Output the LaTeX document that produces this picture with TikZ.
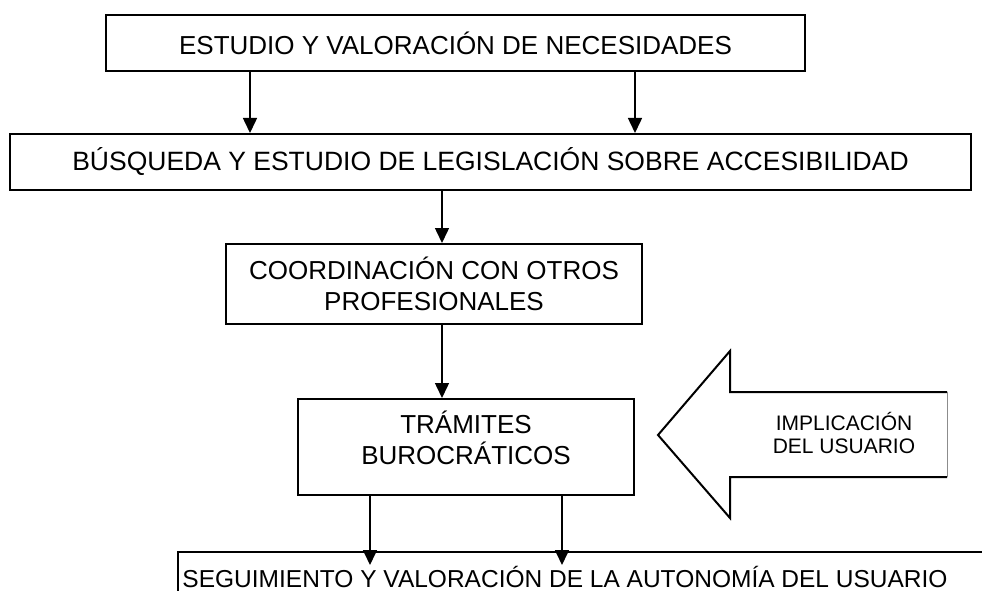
\documentclass[tikz,border=0pt]{standalone}
\usepackage{fontspec}
\setmainfont{Liberation Sans}
\usetikzlibrary{arrows.meta,calc}
\tikzset{
  boxst/.style={draw=black, line width=2pt, inner sep=0pt, align=center, font=\fontsize{26}{31}\selectfont},
  conn/.style={line width=1.5pt, -{Triangle[width=14pt,length=15pt]}},
  bigarrow/.style={draw=black, line width=2pt, line join=miter},
  lbl/.style={inner sep=0pt, align=center}
}
\begin{document}
\begin{tikzpicture}[x=1pt,y=-1pt]
\useasboundingbox (0,0) rectangle (982,591);
\clip (0,0) rectangle (982,591);
% boxes
\node[boxst, minimum width=699pt, minimum height=56pt] (top) at (455.5,43) {ESTUDIO Y VALORACIÓN DE NECESIDADES};
\node[boxst, minimum width=961pt, minimum height=56pt, font=\fontsize{26.5}{31}\selectfont] (leg) at (490.5,162) {BÚSQUEDA Y ESTUDIO DE LEGISLACIÓN SOBRE ACCESIBILIDAD};
\node[boxst, minimum width=416pt, minimum height=80pt] (coord) at (434,284) {COORDINACIÓN CON OTROS\\PROFESIONALES};
\node[boxst, minimum width=336pt, minimum height=96pt] (tram) at (466,447) {TRÁMITES\\BUROCRÁTICOS\\[-12pt]};
\node[boxst, minimum width=813pt, minimum height=80pt, anchor=north west] (bot) at (177,551) {};
\node[lbl, font=\fontsize{24.5}{28}\selectfont, anchor=base] (bottxt) at (565,587) {SEGUIMIENTO Y VALORACIÓN DE LA AUTONOMÍA DEL USUARIO};
% connector x positions
\coordinate (x1) at (250,0);
\coordinate (x2) at (635,0);
\coordinate (x3) at (442,0);
\coordinate (x4) at (370,0);
\coordinate (x5) at (562,0);
\draw[conn] (x1 |- top.south) -- (x1 |- leg.north);
\draw[conn] (x2 |- top.south) -- (x2 |- leg.north);
\draw[conn] (x3 |- leg.south) -- (x3 |- coord.north);
\draw[conn] (x3 |- coord.south) -- (x3 |- tram.north);
\draw[conn] (x4 |- tram.south) -- ([yshift=-14pt]x4 |- bot.north);
\draw[conn] (x5 |- tram.south) -- ([yshift=-14pt]x5 |- bot.north);
% block arrow
\draw[bigarrow] (947,392) -- (730,392) -- (730,351) -- (658,435) -- (730,518) -- (730,477) -- (947,477);
\draw[line width=1pt, draw=black!45] (947,392) -- (947,477);
\node[lbl, font=\fontsize{21}{23}\selectfont] (impl) at (844,433) {IMPLICACIÓN\\DEL USUARIO};
\end{tikzpicture}
\end{document}
